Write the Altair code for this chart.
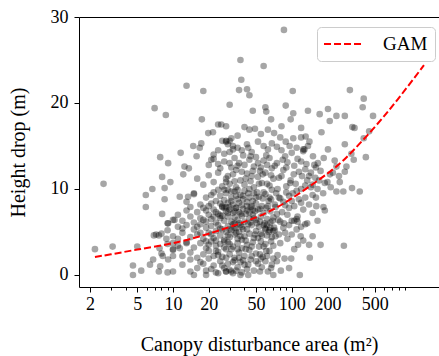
import altair as alt
import pandas as pd

# ---- scatter values (area m2, height drop m), grouped by region ----
outliers_top = [(86, 28.5), (37, 25.0), (58, 24.3), (37.6, 22.7), (13, 22.0), (36, 21.5), (42, 21.6),
                (44, 20.9), (18, 21.4), (102, 21.4), (309, 21.5), (404, 20.5), (7.0, 19.4), (8.7, 18.6),
                (30, 19.8), (89, 19.7), (137, 19.1), (202, 19.3), (396, 19.5), (484, 18.5), (280, 18.5),
                (238, 18.5), (209, 17.9), (172, 18.7), (103, 18.8), (98, 18.1), (60, 19.5), (61, 19.0),
                (47, 19.1), (17.5, 18.1), (25.5, 17.5), (28, 17.3), (324, 17.2), (338, 17.1), (449, 16.7),
                (67, 18.1), (82, 17.3), (120, 17.1), (178, 16.6)]
right_side = [(404, 15.9), (421, 13.7), (374, 9.7), (322, 10.1), (333, 13.4), (318, 14.1), (280, 15.2),
              (120, 16.0), (103, 15.9), (89, 15.5), (125, 14.6), (137, 15.0), (141, 15.5), (131, 16.1),
              (151, 13.8), (166, 13.0), (202, 14.6), (238, 12.6), (222, 11.9), (250, 11.5), (254, 10.8),
              (272, 9.7), (238, 9.7), (289, 12.6), (280, 12.0), (190, 10.7), (184, 9.5), (190, 7.5),
              (161, 8.0), (175, 3.5), (275, 3.4), (140, 3.5), (142, 2.0), (119, 4.5), (113, 3.5)]
bottom_row = [(117, 0.0), (99, 1.9), (95, 0.8), (87, 1.9), (81, 0.5), (70, 0.0), (70, 1.9), (67, 0.8),
              (54, 0.4), (54, 2.4), (61, 2.8), (43, 0.0), (37, 0.0), (32, 0.2), (28, 0.4), (24, 0.2),
              (19, 0.0), (15, 0.0), (14, 0.4), (10, 0.4), (9, 0.3), (7.6, 0.4), (5.4, 0.5), (4.6, 0.0),
              (4.6, 1.1), (6.4, 1.2), (6.8, 1.8), (7.8, 1.0), (8.2, 2.2), (9.1, 1.8)]
left_side = [(2.2, 3.0), (3.1, 3.3), (5.0, 3.3), (2.6, 10.6), (5.9, 9.3), (5.9, 7.9), (6.7, 10.0),
             (7.8, 13.7), (9.1, 13.0), (8.1, 11.4), (8.5, 10.1), (9.5, 10.8), (8.5, 8.8), (8.1, 7.1),
             (9.1, 6.0), (10.3, 6.4), (11.6, 14.2), (12.5, 12.6), (12.2, 11.7), (13.6, 12.4), (14.8, 15.0),
             (16.8, 14.8), (17.3, 15.3), (15.8, 13.8), (19.8, 16.5), (21.7, 16.6), (21, 13.4), (24, 17.5),
             (15, 9.5), (11.4, 9.1), (13.4, 9.1), (7.2, 4.7), (7.6, 4.6), (6.9, 4.6), (8.8, 4.2),
             (7.7, 3.1), (10, 3.7), (11.4, 3.1), (13, 3.7), (10, 2.2)]
band_16_18 = [(40, 17.2), (44, 16.9), (49, 17.0), (55, 16.4), (63, 16.9), (71, 16.5), (35, 16.2),
              (31, 15.9), (26, 15.6), (28, 15.6), (80, 16.0)]
band_14_16 = [(28, 15.5), (30, 15.6), (29, 15.2), (32, 15.0), (24, 14.5), (22, 14.0), (35, 14.8),
              (38, 14.5), (42, 15.2), (46, 14.3), (52, 15.5), (58, 15.0), (63, 14.6), (68, 15.3),
              (75, 14.9), (82, 14.5), (88, 13.8), (96, 15.0), (100, 14.2), (110, 14.8), (125, 14.4),
              (128, 14.6), (120, 13.2)]
band_12_14 = [(20, 12.8), (22, 13.5), (25, 12.4), (27, 13.2), (30, 13.0), (31, 12.5), (33, 13.6),
              (34, 12.2), (36, 13.0), (40, 12.8), (44, 13.4), (48, 12.6), (52, 13.0), (55, 12.5),
              (58, 13.3), (62, 12.8), (68, 12.4), (75, 13.0), (85, 12.2), (92, 13.1), (105, 12.7),
              (115, 12.0), (130, 12.3), (145, 11.9), (160, 12.5)]
band_10_12 = [(16, 11.2), (18, 10.5), (20, 11.6), (22, 10.8), (24, 11.9), (26, 10.3), (28, 11.2),
              (30, 10.6), (32, 11.7), (34, 10.2), (37, 11.0), (40, 10.5), (42, 11.8), (45, 10.9),
              (48, 10.2), (52, 11.4), (56, 10.7), (60, 11.9), (65, 10.4), (70, 11.2), (76, 10.0),
              (82, 11.5), (90, 10.3), (98, 11.0), (108, 10.6), (120, 10.0), (135, 11.0), (150, 10.5)]
band_8_10 = [(13, 8.5), (15, 9.4), (17, 8.2), (19, 9.0), (20, 8.0), (22, 9.6), (23, 8.6), (25, 9.2),
             (26, 8.0), (27, 7.8), (28, 9.5), (29, 8.4), (30, 7.9), (31, 9.0), (32, 8.2), (33, 9.7),
             (34, 7.8), (35, 8.8), (37, 9.3), (38, 8.1), (40, 9.8), (42, 8.5), (44, 9.0), (46, 8.0),
             (48, 9.5), (50, 8.3), (53, 9.1), (56, 8.0), (60, 9.4), (64, 8.6), (68, 9.9), (72, 8.2),
             (78, 9.0), (85, 8.5), (95, 9.2), (105, 8.0), (115, 8.8), (130, 9.0), (140, 8.2)]
band_6_8 = [(9, 6.0), (10, 6.4), (11, 7.0), (12, 6.3), (13, 7.5), (14, 6.8), (15, 6.1), (16, 7.3),
            (17, 6.6), (18, 7.8), (19, 6.2), (20, 7.0), (21, 6.5), (22, 7.6), (23, 6.1), (24, 7.1),
            (25, 6.6), (26, 7.9), (27, 6.3), (28, 7.4), (28, 7.9), (29, 6.8), (30, 7.6), (31, 6.2),
            (32, 7.2), (33, 6.7), (34, 7.8), (35, 6.4), (36, 7.3), (38, 6.9), (39, 7.7), (40, 6.2),
            (42, 7.5), (44, 6.6), (45, 7.9), (47, 7.0), (50, 6.4), (52, 7.6), (55, 6.8), (58, 7.2),
            (62, 6.5), (66, 7.4), (70, 6.7), (75, 7.1), (80, 6.2), (86, 6.0), (92, 7.0), (100, 6.3),
            (112, 6.8), (125, 7.6)]
band_4_6 = [(8, 4.8), (9, 5.2), (10, 4.5), (11, 5.6), (12, 4.9), (13, 5.8), (14, 4.4), (15, 5.3),
            (16, 4.7), (17, 5.9), (18, 4.2), (19, 5.5), (20, 4.9), (21, 5.7), (22, 4.3), (23, 5.1),
            (24, 5.8), (25, 4.6), (26, 5.3), (27, 4.1), (28, 5.0), (29, 5.7), (30, 4.4), (31, 5.2),
            (32, 5.9), (33, 4.7), (34, 5.4), (35, 4.2), (36, 5.0), (38, 5.6), (40, 4.5), (42, 5.3),
            (44, 4.8), (46, 5.8), (48, 4.3), (50, 5.1), (53, 5.6), (56, 4.6), (60, 5.4), (64, 5.0),
            (68, 4.4), (72, 5.2), (78, 4.7), (85, 5.5), (92, 4.2), (110, 5.3), (120, 5.6)]
band_2_4 = [(8, 2.5), (9, 3.6), (10, 2.9), (11, 3.4), (12, 2.2), (13, 3.8), (14, 2.6), (15, 3.2),
            (16, 2.0), (17, 3.7), (18, 2.4), (19, 3.1), (20, 2.8), (21, 3.9), (22, 2.2), (23, 3.4),
            (24, 2.7), (25, 3.6), (26, 2.1), (28, 3.0), (29, 3.8), (30, 2.4), (32, 3.3), (33, 2.0),
            (35, 3.7), (36, 2.6), (38, 3.1), (40, 2.2), (42, 3.5), (44, 2.9), (47, 3.8), (50, 2.5),
            (53, 3.3), (57, 2.1), (60, 3.6), (65, 2.8), (70, 3.4), (76, 2.3)]
band_0_2 = [(12, 1.2), (14, 1.8), (16, 0.8), (17, 1.5), (19, 0.5), (20, 1.9), (22, 1.1), (23, 0.3),
            (25, 1.6), (27, 0.8), (28, 0.4), (29, 1.3), (30, 0.6), (31, 0.4), (33, 1.7), (35, 0.9),
            (37, 1.5), (38, 0.3), (40, 1.2), (42, 0.7), (45, 1.8), (48, 0.5), (52, 1.3), (56, 0.9),
            (60, 1.6), (63, 0.4)]
core_extra = [(21, 8.3), (24, 9.9), (26, 6.9), (27, 8.7), (29, 9.9), (30, 5.3), (31, 8.6), (33, 6.0),
              (34, 9.2), (36, 8.4), (37, 5.8), (39, 8.8), (41, 7.1), (43, 9.5), (45, 6.1), (47, 8.6),
              (49, 7.4), (51, 9.6), (54, 6.2), (57, 8.9), (59, 6.0), (61, 7.8), (65, 9.0), (69, 6.3),
              (73, 7.9), (30, 3.6), (34, 4.9), (27, 3.9), (25, 6.9), (23, 4.0), (38, 4.1), (41, 3.0),
              (36, 6.0), (44, 7.3), (48, 6.6), (52, 4.3), (55, 3.9), (58, 5.8), (62, 4.6), (66, 6.1),
              (71, 5.5), (77, 6.4), (83, 7.3), (88, 8.1), (95, 7.8), (102, 9.5), (28, 10.8), (33, 10.9),
              (38, 12.0), (46, 11.5), (54, 12.1), (62, 10.6), (30, 14.3), (45, 13.8), (65, 13.6),
              (18, 6.4), (20, 3.5), (22, 6.8), (16, 5.6), (14, 7.9), (12, 5.4), (11, 4.2), (10, 3.0),
              (60, 5.3), (65, 5.2), (70, 5.1), (66, 5.5), (105, 6.3), (110, 6.5), (112, 6.2)]
core_upper = [(24, 12.9), (27, 14.1), (29, 11.5), (32, 14.6), (35, 12.7), (39, 13.9), (41, 11.2),
              (43, 14.8), (47, 12.1), (50, 13.7), (53, 10.6), (57, 11.7), (61, 13.9), (67, 11.6),
              (72, 12.7), (78, 11.3), (84, 13.4), (90, 12.5), (97, 10.7), (104, 11.7), (112, 13.5),
              (122, 11.5), (133, 12.9), (145, 10.2), (158, 11.3), (175, 12.1), (186, 13.6),
              (213, 10.2), (230, 13.3)]
core_middle = [(19, 7.5), (21, 9.3), (23, 7.3), (25, 8.3), (27, 9.9), (29, 7.2), (31, 9.7), (33, 7.4),
               (35, 9.9), (37, 7.1), (39, 9.2), (42, 8.0), (44, 10.0), (47, 7.6), (50, 9.0), (54, 7.7),
               (58, 9.6), (63, 8.0), (67, 8.8), (74, 9.5), (80, 8.9), (90, 9.6), (100, 8.6), (110, 9.8),
               (120, 8.4), (150, 9.3), (165, 10.0)]
core_lower = [(17, 4.9), (19, 3.9), (21, 4.7), (23, 2.8), (25, 5.4), (27, 3.2), (29, 4.6), (31, 3.0),
              (33, 5.5), (35, 3.0), (37, 4.5), (39, 5.3), (41, 4.0), (43, 5.9), (46, 3.3), (49, 4.7),
              (51, 6.0), (55, 4.8), (58, 3.3), (62, 5.8), (67, 3.9), (73, 4.5), (80, 3.7), (88, 4.9),
              (95, 5.8), (100, 4.7), (130, 5.9), (18, 1.3), (21, 0.7), (24, 2.3), (26, 1.1), (28, 2.0),
              (32, 1.5), (34, 0.5), (36, 2.0), (39, 1.7), (43, 1.2), (46, 2.2), (50, 1.6), (55, 1.9),
              (62, 2.2), (68, 1.2), (75, 1.6)]
mid_right = [(150, 7.2), (160, 9.0), (130, 10.4), (140, 11.5), (170, 11.0), (155, 12.8), (200, 10.8),
             (210, 11.7), (185, 7.9), (165, 6.3), (135, 6.0), (150, 4.5), (125, 4.0), (105, 3.0)]

# ---- GAM fit curve ----
gam_area = [2.2, 3, 5, 10, 20, 50, 100, 200, 300, 500, 800, 1300]
gam_drop = [2.1, 2.4, 2.95, 3.7, 4.8, 6.7, 8.9, 11.8, 13.9, 17.2, 20.6, 24.4]

x_major = [2, 5, 10, 20, 50, 100, 200, 500]
x_minor = [3, 4, 6, 7, 8, 9, 30, 40, 60, 70, 80, 90, 300, 400, 600, 700, 800, 900]
y_ticks = [0, 10, 20, 30]

groups = [outliers_top, right_side, bottom_row, left_side, band_16_18, band_14_16, band_12_14,
          band_10_12, band_8_10, band_6_8, band_4_6, band_2_4, band_0_2, core_extra, core_upper,
          core_middle, core_lower, mid_right]
pairs = [p for g in groups for p in g]
pts = pd.DataFrame({"area": [p[0] for p in pairs], "drop": [p[1] for p in pairs]})
gam = pd.DataFrame({"area": gam_area, "drop": gam_drop, "label": ["GAM"] * len(gam_area)})

FONT = "Liberation Serif"
XDOM = [1.615, 1740]
YDOM = [-1.4, 30]

xscale = alt.Scale(type="log", domain=XDOM, nice=False)
yscale = alt.Scale(domain=YDOM, nice=False, zero=False)

points = alt.Chart(pts).mark_circle(size=44, color="black", opacity=0.35, strokeWidth=0).encode(
    x=alt.X("area:Q", scale=xscale,
            axis=alt.Axis(values=x_major, format="d", title="Canopy disturbance area (m²)",
                          tickSize=5, labelPadding=3, labelFlush=False, labelOverlap=False,
                          grid=False, domain=True, titleY=63, titleBaseline="alphabetic")),
    y=alt.Y("drop:Q", scale=yscale,
            axis=alt.Axis(values=y_ticks, title="Height drop (m)", tickSize=5, labelPadding=6,
                          grid=False, domain=True, titleX=-51)),
)

line = alt.Chart(gam).mark_line(strokeDash=[7, 3], strokeWidth=2, interpolate="natural").encode(
    x=alt.X("area:Q", scale=xscale,
            axis=alt.Axis(values=x_minor, labels=False, title=None, tickSize=3, domain=False,
                          grid=False, orient="bottom")),
    y=alt.Y("drop:Q", scale=yscale),
    color=alt.Color("label:N", scale=alt.Scale(domain=["GAM"], range=["#ff0000"]),
                    legend=alt.Legend(title=None, orient="none", legendX=238, legendY=10,
                                      symbolType="M-2.11,0H2.11", symbolSize=324, symbolStrokeWidth=2,
                                      symbolOffset=9, symbolDash=[7, 3], labelFont=FONT,
                                      labelFontSize=19, labelColor="black", labelOffset=30, padding=7,
                                      fillColor="white", strokeColor="#cccccc", cornerRadius=4)),
)

topspine = alt.Chart(gam).mark_circle(opacity=0).encode(
    x=alt.X("area:Q", scale=xscale,
            axis=alt.Axis(orient="top", labels=False, ticks=False, title=None, domain=True, grid=False)),
    y=alt.Y("drop:Q", scale=yscale),
)

chart = (
    alt.layer(points, line, topspine)
    .resolve_scale(x="independent")
    .properties(width=360, height=270,
                padding={"left": 79, "top": 17, "right": 0, "bottom": 69},
                autosize=alt.AutoSizeParams(type="none"))
    .configure_view(stroke=None)
    .configure_axis(labelFont=FONT, titleFont=FONT, labelFontSize=18, titleFontSize=20,
                    labelColor="black", titleColor="black", tickColor="black", domainColor="black",
                    titleFontWeight="normal", domainWidth=1, tickWidth=1)
)

chart.save("out.html", embed_options={"renderer": "svg", "actions": False})
